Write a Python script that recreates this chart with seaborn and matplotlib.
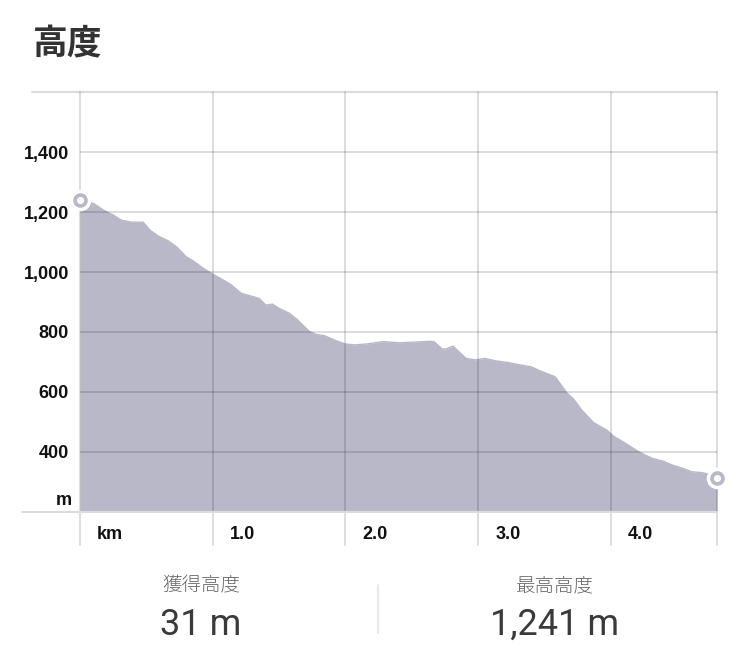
import numpy as np
import pandas as pd
import matplotlib
matplotlib.use("Agg")
import matplotlib.pyplot as plt
import matplotlib.transforms as mtransforms
import seaborn as sns

# ---- data ----
distance_km = [0.0, 0.10, 0.175, 0.25, 0.31, 0.39, 0.476, 0.526, 0.589, 0.664, 0.727,
               0.80, 0.85, 0.93, 1.0, 1.08, 1.14, 1.215, 1.28, 1.35, 1.40, 1.45, 1.50,
               1.58, 1.64, 1.73, 1.78, 1.84, 1.93, 2.0, 2.07, 2.16, 2.28, 2.41, 2.64,
               2.67, 2.73, 2.76, 2.81, 2.91, 2.98, 3.05, 3.13, 3.23, 3.32, 3.40, 3.48,
               3.58, 3.67, 3.72, 3.78, 3.87, 3.97, 4.02, 4.11, 4.21, 4.31, 4.39, 4.46,
               4.54, 4.61, 4.69, 4.75, 4.80]
elevation_m = [1241, 1229, 1207, 1190, 1173, 1166, 1166, 1140, 1120, 1104, 1084,
               1051, 1038, 1012, 993, 973, 957, 929, 921, 912, 890, 893, 879,
               862, 840, 801, 792, 788, 771, 760, 757, 760, 768, 764, 769,
               767, 743, 744, 753, 712, 707, 712, 704, 698, 690, 684, 668,
               651, 596, 576, 540, 498, 473, 453, 429, 401, 379, 370, 357,
               346, 334, 331, 325, 312]
y_ticks = [400, 600, 800, 1000, 1200, 1400]
y_tick_labels = ["400", "600", "800", "1,000", "1,200", "1,400"]
x_ticks = [0, 1, 2, 3, 4]
x_tick_labels = ["km", "1.0", "2.0", "3.0", "4.0"]
title = "高度"
stat_labels = ["獲得高度", "最高高度"]
stat_values = ["31 m", "1,241 m"]

df = pd.DataFrame({"km": distance_km, "elev": elevation_m})

sns.set_style("white")
plt.rcParams["font.family"] = ["Liberation Sans", "Noto Sans CJK JP", "DejaVu Sans"]

W, H = 750, 671
fig = plt.figure(figsize=(W / 100, H / 100), dpi=100)
L, R, T, B = 80, 717, 92, 512
ax = fig.add_axes([L / W, (H - B) / H, (R - L) / W, (B - T) / H])

FILL = "#b9b8c9"
GRID = (0, 0, 0, 0.15)
LIGHT = "#dcdcdc"

ax.set_xlim(0, 4.80)
ax.set_ylim(200, 1600)

ax.fill_between(df["km"], df["elev"], 200, color=FILL, lw=0, zorder=1)
sns.lineplot(data=df, x="km", y="elev", ax=ax, color=FILL, lw=1, zorder=1,
             estimator=None, sort=False)

# grid lines
for y in y_ticks:
    ax.axhline(y, color=GRID, lw=1.3, zorder=2)
ax.plot([-48 / (R - L), 1], [1, 1], transform=ax.transAxes, clip_on=False,
        color=LIGHT, lw=1.5, zorder=2)
ax.plot([-58 / (R - L), 1], [0, 0], transform=ax.transAxes, clip_on=False,
        color=LIGHT, lw=1.5, zorder=3)
blend = mtransforms.blended_transform_factory(ax.transData, ax.transAxes)
for x in x_ticks + [4.80]:
    ax.plot([x, x], [-33 / (B - T), 1], transform=blend, clip_on=False,
            color=GRID, lw=1.3, zorder=2)

# end markers
ends = df.iloc[[0, -1]]
ax.scatter(ends["km"], ends["elev"], s=170, color=FILL, edgecolor="white",
           linewidth=2.5, zorder=5, clip_on=False)
ax.scatter(ends["km"], ends["elev"], s=26, color="white", lw=0, zorder=6,
           clip_on=False)

# ticks
ax.set_xticks([])
ax.set_yticks(y_ticks)
ax.set_yticklabels(y_tick_labels, fontsize=13, fontweight="bold", color="#111111")
ax.tick_params(axis="y", length=0, pad=8)
ax.set_xlabel("")
ax.set_ylabel("")
ax.text(-8 / (R - L), 223, "m", transform=mtransforms.blended_transform_factory(ax.transAxes, ax.transData),
        ha="right", va="baseline", fontsize=13, fontweight="bold", color="#111111")
off = mtransforms.ScaledTranslation(17 / 100, 0, fig.dpi_scale_trans)
for x, lab in zip(x_ticks, x_tick_labels):
    ax.text(x, -27 / (B - T), lab, transform=blend + off, ha="left", va="baseline",
            fontsize=13, fontweight="bold", color="#111111")

for s in ax.spines.values():
    s.set_visible(False)

# title
fig.text(33 / W, 1 - 44 / H, title, ha="left", va="center", fontsize=25,
         fontweight="bold", color="#333333", family=["Noto Sans CJK JP", "DejaVu Sans"])

# stats
for cx, lab, val in zip([201, 555], stat_labels, stat_values):
    fig.text(cx / W, 1 - 586 / H, lab, ha="center", va="center", fontsize=14,
             color="#666666", family=["Noto Sans CJK JP", "DejaVu Sans"], fontweight="light")
    fig.text(cx / W, 1 - 625 / H, val, ha="center", va="center", fontsize=26,
             color="#3a3a3a", family=["Roboto", "DejaVu Sans"], fontweight="normal")
fig.add_artist(plt.Line2D([378 / W, 378 / W], [1 - 585 / H, 1 - 633 / H],
                          color="#e2e2e2", lw=1.2))

fig.savefig("out.png", dpi=100)
